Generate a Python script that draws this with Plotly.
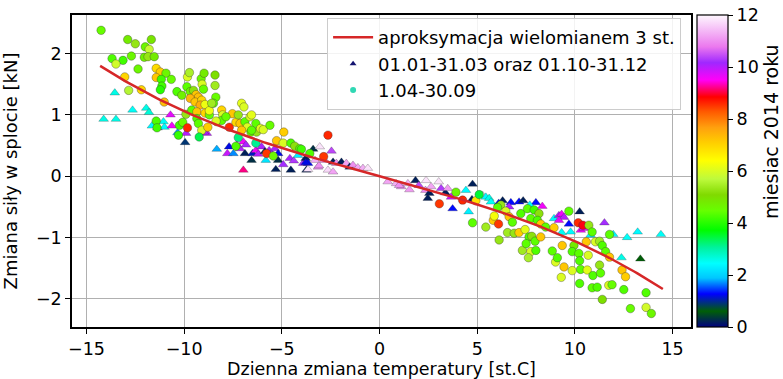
import numpy as np
import plotly.graph_objects as go

# ---- winter points (01.01-31.03 and 01.10-31.12): triangles ----
win_x = [-13.55, -14.12, -13.49, -12.64, -11.94, -11.8, -11.65, -11.36, -11.06, -11.01,
         -10.63, -10.34, -9.9, -9.95, -10.7, -8.84, -8.98, -8.33, -7.79, -7.7,
         -7.48, -7.31, -7.14, -6.97, -6.84, -6.89, -6.97, -6.5, -6.55, -6.33,
         -6.21, -6.04, -5.87, -5.82, -5.65, -5.53, -5.36, -5.19, -5.31, -5.19,
         -4.93, -4.54, -4.59, -4.39, -4.17, -3.91, -3.78, -3.66, -3.4, -3.74,
         -3.15, -3.06, -2.46, -2.81, -2.38, -2.21, -1.95, -1.7, -1.53, -1.36,
         -1.11, -0.85, -0.6, -2.64, -2.38, -3.66, -3.78, -3.3, -3.1,
         0.42, 0.85, 1.11, 1.45, 1.53, 1.84, 2.01, 2.38, 2.35, 2.55,
         2.64, 3.03, 3.15, 2.47, 3.37, 3.49, 3.66, 3.74, 4.42, 4.56,
         4.76, 5.27, 5.44, 5.61, 4.73, 6.72, 6.63, 7.14, 7.35, 8.0,
         8.33, 7.69, 8.93, 9.18, 9.32, 9.44, 9.18, 10.24, 11.51, 11.96,
         12.67, 13.21, 14.4, 12.38, 13.35, 9.69, 9.78, 9.32, 10.3, 10.45,
         10.8, 5.7, 6.1, 6.3, 1.0]
win_y = [1.36, 0.93, 0.93, 1.08, 1.11, 1.04, 0.82, 0.79, 0.89, 0.80,
         0.82, 0.71, 0.70, 0.55, 1.0, 0.70, 0.72, 0.44, 0.37, 0.48,
         0.37, 0.51, 0.45, 0.56, 0.51, 0.37, 0.10, 0.37, 0.26, 0.42,
         0.36, 0.48, 0.40, 0.26, 0.42, 0.36, 0.45, 0.37, 0.11, 0.26,
         0.19, 0.10, 0.29, 0.25, 0.34, 0.21, 0.29, 0.21, 0.44, 0.10,
         0.15, 0.48, 0.41, 0.26, 0.23, 0.21, 0.23, 0.21, 0.15, 0.18,
         0.14, 0.13, 0.13, 0.10, 0.07, 0.11, 0.22, 0.26, 0.17,
         -0.09, -0.12, -0.17, -0.12, -0.22, -0.07, -0.15, -0.07, -0.23, -0.28,
         -0.17, -0.09, -0.20, -0.36, -0.27, -0.20, -0.34, -0.53, -0.23, -0.58,
         -0.13, -0.31, -0.34, -0.36, -0.38, -0.43, -0.50, -0.42, -0.40, -0.43,
         -0.49, -0.47, -0.69, -0.64, -0.62, -0.67, -0.72, -0.58, -0.76, -0.95,
         -1.0, -0.91, -0.95, -1.33, -1.35, -0.78, -0.91, -0.92, -0.88, -0.85,
         -0.96, -0.42, -0.44, -0.40, -0.15]
win_m = [2.6, 2.6, 2.6, 2.5, 2.6, 2.7, 2.4, 10.0, 2.5, 2.4,
         9.6, 1.8, 10.0, 0.9, 9.7, 10.0, 10.1, 1.8, 9.9, 1.2,
         1.7, 9.6, 10.0, 9.6, 10.1, 0.2, 9.2, 1.1, 0.3, 9.6,
         10.0, 10.1, 0.2, 2.2, 10.0, 10.2, 10.1, 1.2, 0.2, 0.3,
         10.2, 0.2, 10.1, 10.3, 2.3, 10.2, 0.2, 1.3, 0.3, 0.2,
         11.0, 11.8, 10.4, 11.0, 0.2, 11.0, 0.2, 11.2, 0.2, 11.0,
         11.2, 11.3, 11.8, 11.7, 11.2, 11.8, 1.2, 11.3, 11.0,
         11.2, 11.3, 11.0, 11.3, 11.1, 0.2, 10.4, 11.8, 11.0, 0.2,
         11.2, 11.8, 10.3, 0.2, 0.2, 11.1, 9.8, 1.3, 2.4, 2.3,
         0.2, 11.8, 2.4, 2.6, 0.2, 1.3, 10.1, 1.3, 0.2, 1.3,
         9.6, 2.4, 2.4, 10.1, 9.6, 10.0, 9.7, 0.2, 10.2, 2.4,
         2.5, 2.4, 2.5, 2.6, 0.6, 1.3, 2.4, 2.5, 9.6, 9.7,
         2.4, 2.5, 1.2, 0.2, 11.0]

# ---- summer points (1.04-30.09): circles ----
sum_x = [-14.25, -12.89, -12.5, -11.68, -11.99, -11.79, -13.69, -13.13, -12.7, -13.49,
         -12.04, -11.85, -11.53, -12.36, -13.04, -11.43, -11.22, -10.93, -11.43, -11.17,
         -10.66, -11.14, -11.22, -12.84, -12.19, -11.02, -10.37, -10.12, -9.83, -9.73,
         -9.86, -9.69, -9.52, -9.39, -9.13, -9.08, -8.98, -9.01, -9.27, -9.69,
         -9.44, -9.1, -9.18, -8.93, -8.42, -8.42, -8.38, -8.5, -8.08, -8.03,
         -7.53, -9.91, -9.61, -9.35, -8.93, -9.35, -8.71, -10.24, -10.07, -9.83,
         -9.27, -9.1, -8.79, -8.33, -8.08, -7.69, -7.35, -11.43, -11.39, -10.29,
         -9.23, -8.71, -8.59, -8.37, -7.86, -7.23, -7.06, -6.94, -7.0, -7.14,
         -6.89, -6.63, -6.77, -6.58, -6.29, -6.33, -6.09, -5.95, -5.61, -4.9,
         -5.27, -4.93, -4.54, -4.34, -4.08, -7.23, -7.35, -6.33, -5.78, -5.44,
         -3.57, -2.64, -2.86, -4.0, -6.55, -7.06, -6.55,
         3.06, 3.91, 4.25, 4.76, 5.44, 5.82, 6.09, 6.21, 6.04, 6.46,
         6.63, 6.8, 7.23, 7.57, 7.91, 8.16, 7.74, 8.08, 8.25, 8.5,
         8.93, 6.12, 6.55, 6.89, 7.14, 7.45, 7.65, 7.79, 7.96, 8.25,
         7.31, 7.5, 7.74, 8.0, 7.62, 8.84, 9.01, 9.1, 9.35, 9.44,
         9.3, 9.69, 10.17, 10.41, 10.71, 10.88, 10.58, 11.05, 11.26, 11.4,
         11.57, 11.77, 9.95, 9.86, 10.2, 10.68, 10.24, 9.86, 10.29, 10.63,
         10.92, 11.26, 11.31, 10.24, 10.88, 11.14, 11.73, 11.9, 12.41, 12.59,
         12.5, 11.4, 12.84, 13.64, 13.91, 13.64, 11.77, 5.87, 4.93, 5.1]
sum_y = [2.38, 2.23, 2.16, 2.23, 2.11, 2.07, 1.92, 1.89, 1.96, 1.83,
         1.94, 1.95, 1.95, 1.75, 1.62, 1.76, 1.70, 1.68, 1.61, 1.58,
         1.58, 1.47, 1.41, 1.40, 1.41, 1.21, 1.38, 1.32, 1.62, 1.69,
         1.46, 1.38, 1.40, 1.33, 1.59, 1.50, 1.68, 1.42, 1.29, 1.27,
         1.21, 1.24, 1.16, 1.17, 1.65, 1.48, 1.29, 1.19, 1.08, 1.0,
         1.02, 1.01, 1.08, 1.05, 1.03, 0.94, 1.0, 0.83, 0.88, 0.79,
         0.86, 0.75, 0.80, 0.89, 0.91, 0.80, 0.88, 0.90, 0.79, 0.67,
         0.64, 1.07, 1.19, 0.90, 0.97, 1.0, 1.19, 1.13, 0.80, 0.86,
         0.89, 0.97, 0.80, 0.72, 0.72, 0.86, 0.78, 0.76, 0.83, 0.72,
         0.58, 0.54, 0.54, 0.49, 0.45, 0.63, 0.49, 0.54, 0.37, 0.33,
         0.37, 0.67, 0.32, 0.44, 1.0, 0.75, 0.75,
         -0.45, -0.26, -0.39, -0.76, -0.83, -0.72, -0.78, -0.47, -0.51, -0.57,
         -0.66, -0.75, -0.61, -0.53, -0.55, -0.61, -0.69, -0.72, -0.78, -0.83,
         -0.84, -1.04, -0.92, -0.93, -0.92, -0.87, -0.99, -0.98, -1.06, -0.99,
         -1.21, -1.10, -1.23, -1.21, -1.33, -1.22, -1.40, -1.33, -1.13, -1.48,
         -1.65, -0.57, -0.76, -0.80, -0.80, -0.91, -1.07, -1.07, -1.06, -1.13,
         -1.23, -1.32, -1.13, -1.23, -1.26, -1.29, -1.38, -1.54, -1.52, -1.53,
         -1.62, -1.45, -1.58, -1.75, -1.82, -1.81, -1.78, -1.77, -1.53, -1.64,
         -1.85, -2.01, -2.16, -2.14, -2.24, -1.90, -0.95, -0.65, -0.40, -0.30]
sum_m = [4.5, 4.8, 5.3, 4.9, 4.6, 5.8, 4.3, 4.2, 4.6, 5.9,
         4.7, 5.3, 4.8, 4.6, 7.0, 6.9, 7.1, 4.6, 7.2, 4.2,
         4.5, 4.2, 4.0, 5.6, 7.0, 7.3, 4.3, 4.7, 6.0, 5.5,
         4.4, 4.6, 5.2, 7.2, 4.6, 6.0, 4.8, 4.5, 7.3, 7.4,
         7.2, 7.0, 7.5, 6.2, 5.0, 5.4, 4.5, 4.4, 7.0, 6.0,
         7.2, 5.3, 4.4, 7.2, 7.0, 4.3, 4.5, 4.2, 4.5, 8.6,
         4.4, 6.0, 7.1, 7.2, 4.4, 8.6, 7.0, 4.3, 4.2, 4.1,
         3.4, 6.2, 5.4, 6.0, 4.5, 5.3, 6.1, 6.0, 5.4, 7.2,
         4.4, 6.0, 6.0, 4.5, 5.3, 4.4, 6.1, 6.0, 4.5, 7.1,
         7.2, 6.0, 4.3, 5.2, 4.4, 3.2, 4.3, 3.1, 8.5, 4.6,
         4.3, 8.6, 8.5, 4.2, 6.1, 7.2, 4.4,
         8.5, 4.6, 8.6, 4.4, 5.4, 7.1, 8.5, 5.3, 4.4, 6.0,
         7.2, 4.4, 4.3, 4.4, 4.2, 5.2, 4.4, 4.3, 7.2, 4.4,
         7.1, 5.3, 5.4, 5.3, 7.1, 6.1, 4.3, 5.2, 4.4, 7.2,
         5.4, 4.4, 6.0, 4.3, 5.5, 4.4, 6.0, 4.3, 7.2, 7.2,
         6.0, 4.4, 8.6, 8.9, 5.3, 4.4, 7.2, 6.0, 5.4, 4.3,
         4.4, 7.2, 4.8, 4.3, 4.4, 6.0, 4.3, 6.0, 4.4, 6.1,
         4.3, 5.3, 4.4, 4.3, 4.4, 4.3, 6.0, 4.5, 7.2, 7.1,
         4.3, 5.0, 4.5, 5.9, 4.6, 4.3, 4.4, 6.3, 6.8, 3.5]

x_ticks = [-15, -10, -5, 0, 5, 10, 15]
y_ticks = [-2, -1, 0, 1, 2]
month_ticks = [0, 2, 4, 6, 8, 10, 12]

# cubic approximation as drawn in the chart (coefficients, highest power first)
fit_coef = [-0.00019, 0.0, -0.087, 0.0]
fit_range = [-14.3, 14.5]
fit_x = np.linspace(fit_range[0], fit_range[1], 200)
fit_y = np.polyval(fit_coef, fit_x)

ncar = [
    [0.0, "rgb(0,0,128)"],
    [0.051, "rgb(0,95,6)"],
    [0.106, "rgb(0,0,255)"],
    [0.157, "rgb(0,199,255)"],
    [0.204, "rgb(0,255,255)"],
    [0.255, "rgb(0,242,157)"],
    [0.31, "rgb(0,252,0)"],
    [0.3725, "rgb(102,255,0)"],
    [0.4235, "rgb(128,218,0)"],
    [0.4745, "rgb(190,250,60)"],
    [0.5333, "rgb(255,255,0)"],
    [0.5922, "rgb(255,205,0)"],
    [0.6392, "rgb(255,160,14)"],
    [0.6902, "rgb(255,90,0)"],
    [0.7373, "rgb(255,0,0)"],
    [0.7922, "rgb(255,0,248)"],
    [0.8471, "rgb(159,40,255)"],
    [0.898, "rgb(235,120,238)"],
    [1.0, "rgb(254,248,254)"],
]

FONT = "DejaVu Sans"
FS = 17.5

fig = go.Figure()
fig.add_trace(go.Scatter(
    x=win_x, y=win_y, mode="markers", showlegend=False,
    marker=dict(symbol="triangle-up", size=8.5, color=win_m, coloraxis="coloraxis",
                line=dict(width=0.5, color="rgba(40,40,40,0.5)"))))
fig.add_trace(go.Scatter(
    x=sum_x, y=sum_y, mode="markers", showlegend=False,
    marker=dict(symbol="circle", size=8.5, color=sum_m, coloraxis="coloraxis",
                line=dict(width=0.6, color="rgba(50,50,50,0.6)"))))
fig.add_trace(go.Scatter(
    x=fit_x, y=fit_y, mode="lines", name="aproksymacja wielomianem 3 st.",
    line=dict(color="#d62728", width=2.5), legendgroup="a", legendrank=1))
# legend entries for the scatter series
fig.add_trace(go.Scatter(
    x=[None], y=[None], mode="markers", name="01.01-31.03 oraz 01.10-31.12",
    marker=dict(symbol="triangle-up", size=6, color="#141470"),
    legendgroup="b", legendrank=2))
fig.add_trace(go.Scatter(
    x=[None], y=[None], mode="markers", name="1.04-30.09",
    marker=dict(symbol="circle", size=6, color="#30d8b4"),
    legendgroup="c", legendrank=3))

axis_common = dict(
    ticks="outside", ticklen=5, tickwidth=1, tickcolor="black",
    showline=True, mirror=True, linecolor="black", linewidth=1.5,
    showgrid=True, gridcolor="#b0b0b0", gridwidth=1.2, zeroline=False,
    automargin=False,
    tickfont=dict(family=FONT, size=FS, color="black"),
)

fig.update_layout(
    width=783, height=379,
    margin=dict(l=72, r=92, t=15, b=52, autoexpand=False),
    paper_bgcolor="white", plot_bgcolor="white",
    font=dict(family=FONT, size=FS, color="black"),
    xaxis=dict(range=[-15.74, 15.94], tickvals=x_ticks,
               title=dict(text="Dzienna zmiana temperatury [st.C]", standoff=9,
                          font=dict(family=FONT, size=FS)),
               **axis_common),
    yaxis=dict(range=[-2.46, 2.63], tickvals=y_ticks,
               title=dict(text="Zmiana siły w splocie [kN]", standoff=16,
                          font=dict(family=FONT, size=18)),
               **axis_common),
    coloraxis=dict(
        cmin=0, cmax=12, colorscale=ncar,
        colorbar=dict(
            x=1.0097, xanchor="left", xpad=0, ypad=0,
            y=0.5, yanchor="middle", len=1, lenmode="fraction",
            thickness=31, thicknessmode="pixels",
            outlinewidth=1.2, outlinecolor="black",
            ticks="outside", ticklen=5, tickcolor="black",
            tickvals=month_ticks,
            tickfont=dict(family=FONT, size=FS),
        ),
    ),
    annotations=[dict(
        text="miesiac 2014 roku", textangle=-90, showarrow=False,
        xref="paper", yref="paper", x=(771 - 72) / 619, y=(327 - 132) / 312,
        xanchor="center", yanchor="middle",
        font=dict(family=FONT, size=19, color="black"),
    )],
    legend=dict(
        x=0.984, xanchor="right", y=0.99, yanchor="top",
        bgcolor="rgba(255,255,255,0.85)", bordercolor="#cccccc", borderwidth=1,
        font=dict(family=FONT, size=18), traceorder="grouped", tracegroupgap=0,
        itemwidth=40,
    ),
)

fig.write_html("out.html")
